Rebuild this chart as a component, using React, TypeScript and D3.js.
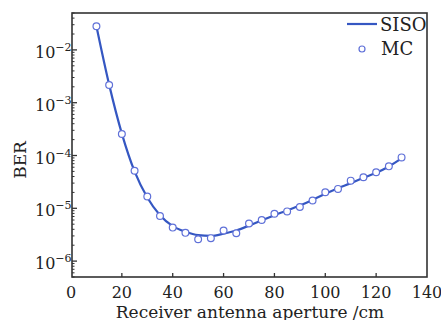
import React from "react";
import * as d3 from "d3";

// receiver aperture (cm)
const apertures = [10, 15, 20, 25, 30, 35, 40, 45, 50, 55, 60, 65, 70, 75, 80, 85, 90, 95, 100, 105, 110, 115, 120, 125, 130];

// SISO analytic curve
const sisoBer = [2.8e-2, 2.2e-3, 2.6e-4, 5.0e-5, 1.6e-5, 7.4e-6, 4.6e-6, 3.6e-6, 3.1e-6, 3.0e-6, 3.3e-6, 3.8e-6, 4.7e-6, 5.9e-6, 7.4e-6, 9.1e-6, 1.13e-5, 1.44e-5, 1.88e-5, 2.4e-5, 3.0e-5, 3.8e-5, 4.7e-5, 6.2e-5, 8.8e-5];

// Monte Carlo simulation
const mcBer = [2.8e-2, 2.17e-3, 2.56e-4, 5.15e-5, 1.67e-5, 7.16e-6, 4.31e-6, 3.43e-6, 2.6e-6, 2.72e-6, 3.79e-6, 3.37e-6, 5.14e-6, 6.02e-6, 7.91e-6, 8.74e-6, 1.06e-5, 1.41e-5, 2.02e-5, 2.33e-5, 3.34e-5, 3.87e-5, 4.81e-5, 6.23e-5, 9.2e-5];

const xTicks = [0, 20, 40, 60, 80, 100, 120, 140];
const yTickExps = [-2, -3, -4, -5, -6];

const W = 441;
const H = 320;
const margin = { top: 13, right: 14, bottom: 43, left: 72 };
const FONT = "'DejaVu Serif', serif";
const LINE = "#3557c2";
const MARK = "#5f70d8";
const AXIS = "#333";

const App: React.FC = () => {
  const x = d3.scaleLinear().domain([0, 140]).range([margin.left - 1, W - margin.right]);
  const y = d3.scaleLog().domain([5e-7, 5e-2]).range([H - margin.bottom, margin.top]);

  const line = d3
    .line<number>()
    .x((_, i) => x(apertures[i]))
    .y((d) => y(d))
    .curve(d3.curveMonotoneX);

  // minor ticks on log axis
  const minor: number[] = [];
  for (let e = -7; e <= -2; e++) {
    for (let m = 2; m <= 9; m++) {
      const v = m * Math.pow(10, e);
      if (v >= 5e-7 && v <= 5e-2) minor.push(v);
    }
  }

  const x0 = margin.left;
  const x1 = W - margin.right;
  const y0 = H - margin.bottom;
  const y1 = margin.top;

  return (
    <svg width={W} height={H} style={{ position: "absolute", left: 0, top: 0, background: "#fff" }}>
      {/* data */}
      <path d={line(sisoBer) || ""} fill="none" stroke={LINE} strokeWidth={2.2} />
      {mcBer.map((d, i) => (
        <circle key={i} cx={x(apertures[i])} cy={y(d)} r={3.4} fill="#fff" stroke={MARK} strokeWidth={1.2} />
      ))}

      {/* frame */}
      <rect x={x0} y={y1} width={x1 - x0} height={y0 - y1} fill="none" stroke={AXIS} strokeWidth={1.6} />

      {/* x ticks */}
      {xTicks.map((t) => (
        <g key={t}>
          {t > 0 && t < 140 && <line x1={x(t)} x2={x(t)} y1={y0} y2={y0 - 4} stroke={AXIS} strokeWidth={1.3} />}
          <text x={x(t)} y={y0 + 21} textAnchor="middle" fontFamily={FONT} fontSize={16} fill="#222">
            {t}
          </text>
        </g>
      ))}

      {/* y ticks */}
      {minor.map((v, i) => (
        <line key={"m" + i} x1={x0} x2={x0 + 2.5} y1={y(v)} y2={y(v)} stroke={AXIS} strokeWidth={1} />
      ))}
      {yTickExps.map((e) => {
        const yy = y(Math.pow(10, e));
        return (
          <g key={e}>
            <line x1={x0} x2={x0 + 5} y1={yy} y2={yy} stroke={AXIS} strokeWidth={1.3} />
            <text x={35} y={yy + 8} fontFamily={FONT} fontSize={16} fill="#222">
              10
              <tspan dy={-7} fontSize={11}>
                {"\u2212" + Math.abs(e)}
              </tspan>
            </text>
          </g>
        );
      })}

      {/* axis titles */}
      <text
        transform={`translate(26,160) rotate(-90)`}
        textAnchor="middle"
        fontFamily={FONT}
        fontSize={17}
        fill="#222"
      >
        BER
      </text>
      <text x={250} y={318} textAnchor="middle" fontFamily={FONT} fontSize={17} fill="#222">
        Receiver antenna aperture /cm
      </text>

      {/* legend */}
      <line x1={347} x2={377} y1={24} y2={24} stroke={LINE} strokeWidth={2.2} />
      <text x={380} y={31} fontFamily={FONT} fontSize={18} fill="#222">
        SISO
      </text>
      <circle cx={362} cy={49} r={3} fill="#fff" stroke={MARK} strokeWidth={1.2} />
      <text x={381} y={55} fontFamily={FONT} fontSize={18} fill="#222">
        MC
      </text>
    </svg>
  );
};

export default App;
